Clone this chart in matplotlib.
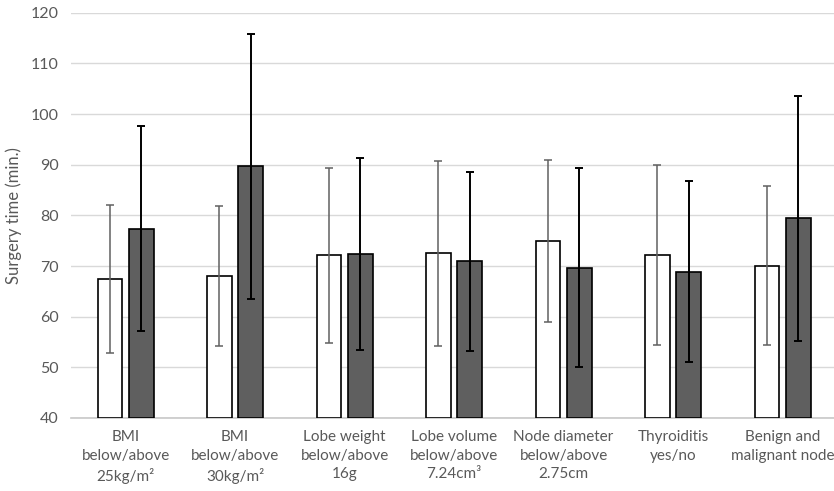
import matplotlib
matplotlib.use("Agg")
import matplotlib.pyplot as plt
import numpy as np

categories = ["BMI\nbelow/above\n25kg/m²", "BMI\nbelow/above\n30kg/m²",
              "Lobe weight\nbelow/above\n16g", "Lobe volume\nbelow/above\n7.24cm³",
              "Node diameter\nbelow/above\n2.75cm", "Thyroiditis\nyes/no",
              "Benign and\nmalignant node"]
white_means = [67.4, 68.1, 72.1, 72.5, 74.9, 72.2, 70.1]
white_sd = [14.6, 13.8, 17.3, 18.3, 16.0, 17.8, 15.7]
dark_means = [77.4, 89.7, 72.4, 70.9, 69.7, 68.9, 79.4]
dark_sd = [20.3, 26.2, 18.9, 17.7, 19.7, 17.8, 24.2]
yticks = [40, 50, 60, 70, 80, 90, 100, 110, 120]

plt.rcParams['font.family'] = ['Lato', 'DejaVu Sans']
fig = plt.figure(figsize=(8.34, 4.91), dpi=100)
ax = fig.add_axes([0.085, 0.1487, 0.919, 0.8253])

x = np.arange(len(categories))
w = 0.226
off = 0.143
ax.bar(x - off, np.array(white_means) - 40, bottom=40, width=w, color='white',
       edgecolor='black', linewidth=1.2, zorder=3)
ax.bar(x + off, np.array(dark_means) - 40, bottom=40, width=w, color='#5f5f5f',
       edgecolor='black', linewidth=1.2, zorder=3)
ax.errorbar(x - off, white_means, yerr=white_sd, fmt='none', ecolor='#606060',
            elinewidth=1.1, capsize=2.7, capthick=1.1, zorder=4)
ax.errorbar(x + off, dark_means, yerr=dark_sd, fmt='none', ecolor='black',
            elinewidth=1.4, capsize=2.7, capthick=1.4, zorder=4)

ax.set_xlim(-0.5, 6.5)
ax.set_ylim(40, 120)
ax.set_yticks(yticks)
ax.set_xticks(x)
ax.set_xticklabels(categories, fontsize=11, color='#595959', linespacing=1.38)
ax.tick_params(axis='y', labelsize=11.5, labelcolor='#595959', length=0, pad=9)
ax.tick_params(axis='x', length=0, pad=9)
ax.grid(axis='y', color='#d9d9d9', linewidth=1, zorder=0)
for s in ['top', 'right', 'left']:
    ax.spines[s].set_visible(False)
ax.spines['bottom'].set_color('#c8c8c8')
ax.spines['bottom'].set_linewidth(1.2)
ax.set_ylabel('Surgery time (min.)', fontsize=12, color='#595959', labelpad=6)

fig.savefig('out.png', dpi=100)
